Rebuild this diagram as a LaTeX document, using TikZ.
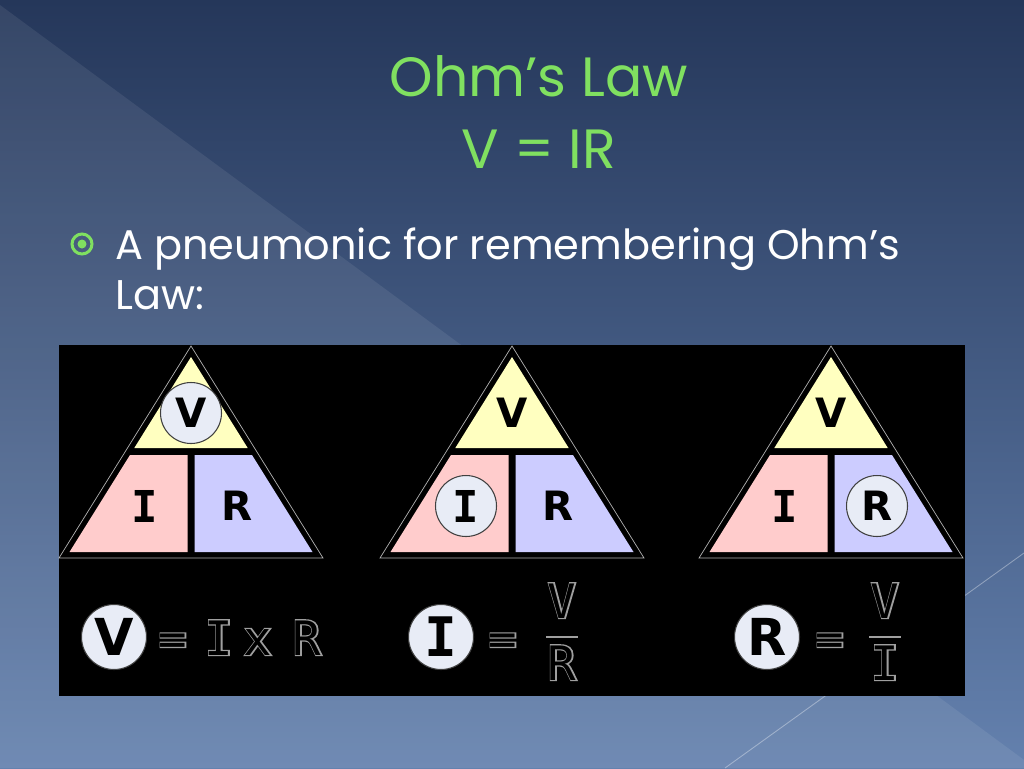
\documentclass[tikz,border=0pt]{standalone}
\usepackage{fontspec}
\setmainfont{Poppins}
\newfontfamily\letterfont{DejaVu Sans}
\newfontfamily\slabfont{DejaVu Sans Mono}
\newfontfamily\fatmono{DejaVu Sans Mono}[FakeBold=5]
\definecolor{bgTop}{RGB}{37,55,90}
\definecolor{bgBottom}{RGB}{100,129,174}
\definecolor{ohmGreen}{RGB}{128,224,96}
\definecolor{triYellow}{RGB}{255,255,192}
\definecolor{triPink}{RGB}{255,204,204}
\definecolor{triBlue}{RGB}{204,204,255}
\definecolor{ringFill}{RGB}{232,236,246}
\newcommand\outlined[1]{\rlap{\textcolor{gray!75}{\fatmono #1}}\textcolor{black}{#1}}

\tikzset{
  bare/.style={},
  letter/.style={font=\letterfont\bfseries\fontsize{23}{23}\selectfont, inner sep=0pt},
  slabletter/.style={font=\slabfont\bfseries\fontsize{25}{25}\selectfont, inner sep=0pt},
  ring/.style={circle, draw=black!75, line width=0.6pt, fill=ringFill, minimum size=1.22cm},
  bigring/.style={minimum size=1.3cm, font=\letterfont\bfseries\fontsize{29}{29}\selectfont},
  hollow/.style={font=\slabfont\fontsize{27}{27}\selectfont, anchor=base, inner sep=0pt},
  heading/.style={text=ohmGreen, font=\fontsize{31.5}{31.5}\selectfont, anchor=base},
  bullettext/.style={anchor=base west, text=white, font=\fontsize{23.6}{23.6}\selectfont}
}

\begin{document}
\begin{tikzpicture}[x=0.02cm, y=-0.02cm]
        \useasboundingbox (0,0) rectangle (1024,768);
        \shade[top color=bgTop, bottom color=bgBottom] (0,0) rectangle (1024,768);
        \fill[white, opacity=0.08] (0,5) -- (1035,768) -- (0,768) -- cycle;
        \draw[white, opacity=0.35, line width=0.5pt] (725,768) -- (1024,553);

        \node[heading] (title) at (539,96) {Ohm’s Law};
        \node[heading] (law) at (539,168) {V = IR};

        \node[circle, draw=ohmGreen, line width=1.7pt, minimum size=0.4cm, inner sep=0pt] (bul) at (82,244) {};
        \node[circle, fill=ohmGreen, minimum size=0.18cm, inner sep=0pt] (bulDot) at (bul) {};
        \node[bullettext] (bul1) at (109,259) {A pneumonic for remembering Ohm’s};
        \node[bullettext] (bul2) at (109,309) {Law:};

        \fill[black] (59,345) rectangle (965,696);

        \foreach \ax/\n/\sv/\si/\sr in {191/1/ring/bare/bare, 512/2/bare/ring/bare, 831/3/bare/bare/ring} {
          \filldraw[fill=black, draw=gray!60, line width=0.4pt] (\ax,346) -- (\ax+132,558) -- (\ax-132,558) -- cycle;
          \fill[triYellow] (\ax,357) -- (\ax+56.7,448) -- (\ax-56.7,448) -- cycle;
          \fill[triPink] (\ax-61,455) -- (\ax-3.5,455) -- (\ax-3.5,552) -- (\ax-121.5,552) -- cycle;
          \fill[triBlue] (\ax+3.5,455) -- (\ax+61,455) -- (\ax+121.5,552) -- (\ax+3.5,552) -- cycle;
          \node[letter,\sv] (V\n) at (\ax,413) {V};
          \node[slabletter,\si] (I\n) at (\ax-46,506) {I};
          \node[letter,\sr] (R\n) at (\ax+46,506) {R};
        }

        \node[letter, ring, bigring] (fV) at (114,637) {V};
        \node[hollow] (eq1) at (173,655) {\outlined{=}};
        \node[hollow] (fI1) at (219,655) {\outlined{I}};
        \node[hollow] (fx1) at (258,655) {\outlined{x}};
        \node[hollow] (fR1) at (307,655) {\outlined{R}};

        \node[slabletter, ring, bigring, font=\slabfont\bfseries\fontsize{31}{31}\selectfont] (fI) at (441,637) {I};
        \node[hollow] (eq2) at (503,655) {\outlined{=}};
        \node[hollow] (fV2) at (562,618) {\outlined{V}};
        \node[hollow] (fR2) at (562,680) {\outlined{R}};
        \draw[gray!75, line width=1.5pt] (546,637) -- (578,637);

        \node[letter, ring, bigring] (fR) at (767,637) {R};
        \node[hollow] (eq3) at (830,655) {\outlined{=}};
        \node[hollow] (fV3) at (885,618) {\outlined{V}};
        \node[hollow] (fI3) at (885,680) {\outlined{I}};
        \draw[gray!75, line width=1.5pt] (869,637) -- (901,637);
\end{tikzpicture}
\end{document}
